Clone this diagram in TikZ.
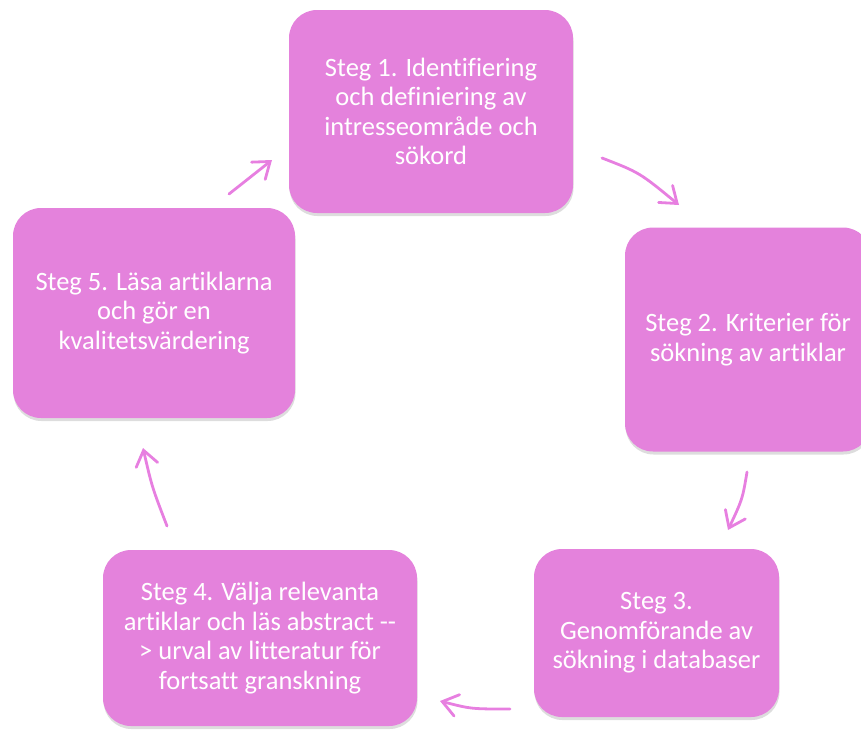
\documentclass[tikz,border=0pt]{standalone}
\usepackage{fontspec}
\setmainfont{Carlito}[Ligatures={NoCommon}]
\usetikzlibrary{arrows.meta,shadows}
\definecolor{boxpink}{HTML}{E482DC}
\definecolor{arrowpink}{HTML}{E77FE0}
\begin{document}
\begin{tikzpicture}[x=1pt,y=-1pt,
  stepbox/.style={rounded corners=28pt, fill=boxpink, draw=none, text=white,
    align=center, inner sep=0pt,
    font=\fontsize{26.5}{29.5}\selectfont,
    drop shadow={shadow xshift=0.5pt, shadow yshift=-3pt, opacity=0.22, fill=black!60}},
  flow/.style={draw=arrowpink, line width=2.8pt, line cap=round,
    -{Straight Barb[length=15pt,width=22pt,line cap=round]}}]
\useasboundingbox (0,0) rectangle (861,729);
\clip (0,0) rectangle (861,729);
\node[stepbox, minimum width=284pt, minimum height=203pt] (s1) at (431,111.5)
  {Steg 1. Identifiering\\och definiering av\\intresseområde och\\sökord};
\node[stepbox, minimum width=246pt, minimum height=224pt] (s2) at (748,339.5)
  {Steg 2. Kriterier för\\sökning av artiklar};
\node[stepbox, minimum width=245pt, minimum height=168pt] (s3) at (656.5,633)
  {Steg 3.\\Genomförande av\\sökning i databaser};
\node[stepbox, minimum width=314pt, minimum height=176pt] (s4) at (260,638)
  {Steg 4. Välja relevanta\\artiklar och läs abstract -\kern0pt-\\> urval av litteratur för\\fortsatt granskning};
\node[stepbox, minimum width=282pt, minimum height=210pt] (s5) at (154,313)
  {Steg 5. Läsa artiklarna\\och gör en\\kvalitetsvärdering};
\coordinate (a1s) at (602,158);
\coordinate (a1e) at (679,205);
\coordinate (a2s) at (747,472);
\coordinate (a2e) at (728,530);
\coordinate (a3s) at (510,709);
\coordinate (a3e) at (440,701);
\coordinate (a4s) at (167,526);
\coordinate (a4e) at (143,448);
\coordinate (a5s) at (229,194);
\coordinate (a5e) at (272,160);
\draw[flow] (a1s) .. controls (639.5,172.5) .. (a1e);
\draw[flow] (a2s) .. controls (742.5,499) .. (a2e);
\draw[flow] (a3s) .. controls (471,709) .. (a3e);
\draw[flow] (a4s) .. controls (152,487) .. (a4e);
\draw[flow] (a5s) -- (a5e);
\end{tikzpicture}
\end{document}
